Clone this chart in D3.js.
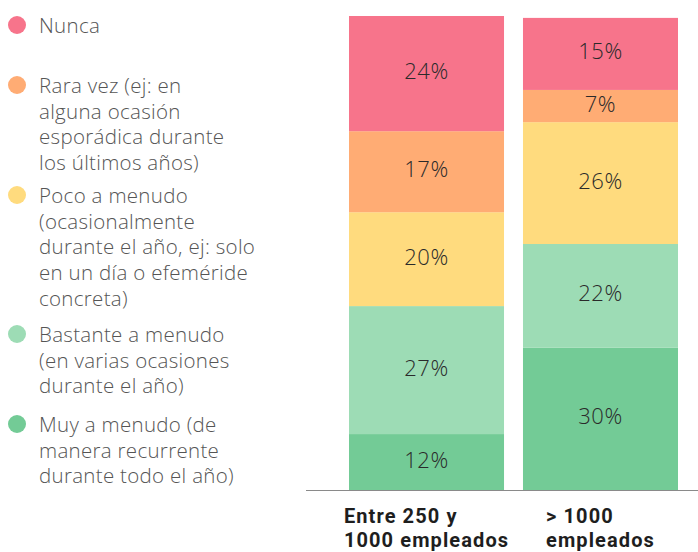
<!DOCTYPE html>
<html>
<head>
<meta charset="utf-8">
<script src="https://cdn.jsdelivr.net/npm/d3@7"></script>
<style>
  body { margin: 0; background: #fff; }
  svg { display: block; font-family: "Open Sans", Roboto, sans-serif; }
</style>
</head>
<body>
<div id="chart"></div>
<script>
const categories = ["Entre 250 y 1000 empleados", "> 1000 empleados"];
const categoryLines = [["Entre 250 y", "1000 empleados"], [">\u00a01000", "empleados"]];
const seriesNames = ["Muy a menudo", "Bastante a menudo", "Poco a menudo", "Rara vez", "Nunca"];
const muyAMenudo = [11.8, 30.0];
const bastanteAMenudo = [27.0, 21.9];
const pocoAMenudo = [19.8, 25.7];
const raraVez = [17.1, 6.8];
const nunca = [24.3, 15.2];
const colors = ["#73cb96", "#9ddcb5", "#ffdb7e", "#ffac74", "#f7748b"];
const legendOrder = ["Nunca", "Rara vez", "Poco a menudo", "Bastante a menudo", "Muy a menudo"];
const legendLines = [
  ["Nunca"],
  ["Rara vez (ej: en", "alguna ocasión", "esporádica durante", "los últimos años)"],
  ["Poco a menudo", "(ocasionalmente", "durante el año, ej: solo", "en un día o efeméride", "concreta)"],
  ["Bastante a menudo", "(en varias ocasiones", "durante el año)"],
  ["Muy a menudo (de", "manera recurrente", "durante todo el año)"]
];

const W = 698, H = 552;
const svg = d3.select("#chart").append("svg").attr("width", W).attr("height", H);

const values = [muyAMenudo, bastanteAMenudo, pocoAMenudo, raraVez, nunca];
const rows = categories.map((c, i) => {
  const r = {cat: c};
  seriesNames.forEach((s, j) => r[s] = values[j][i]);
  return r;
});
const stack = d3.stack().keys(seriesNames)(rows);

const x = d3.scaleBand().domain(categories).range([349, 678]).paddingInner(0.109).paddingOuter(0);
const y = d3.scaleLinear().domain([0, 100]).range([490, 16]);
const color = d3.scaleOrdinal().domain(seriesNames).range(colors);

const layer = svg.selectAll(".layer").data(stack).enter().append("g")
  .attr("fill", d => color(d.key));
layer.selectAll("rect").data(d => d).enter().append("rect")
  .attr("x", d => x(d.data.cat))
  .attr("width", x.bandwidth())
  .attr("y", d => y(d[1]))
  .attr("height", d => y(d[0]) - y(d[1]));

const lbl = svg.append("g");
stack.forEach(s => {
  s.forEach(d => {
    lbl.append("text")
      .attr("x", x(d.data.cat) + x.bandwidth() / 2)
      .attr("y", (y(d[0]) + y(d[1])) / 2 + 5.5)
      .attr("text-anchor", "middle")
      .attr("font-size", 22)
      .attr("font-weight", 300)
      .attr("letter-spacing", 0.5)
      .attr("fill", "#2a2a2a")
      .text(Math.round(d[1] - d[0]) + "%");
  });
});

// baseline
svg.append("line").attr("x1", 306).attr("x2", W).attr("y1", 490.5).attr("y2", 490.5)
  .attr("stroke", "#8a8a8a").attr("stroke-width", 1.2);

// category labels: left aligned block, centered under bar
categories.forEach((c, i) => {
  const g = svg.append("g");
  const t = g.append("text").attr("font-family", "Roboto, sans-serif")
    .attr("font-size", 20).attr("font-weight", 700)
    .attr("letter-spacing", 1.1).attr("fill", "#1e1e1e");
  categoryLines[i].forEach((l, k) => {
    t.append("tspan").attr("x", 0).attr("y", 523 + k * 24).text(l);
  });
  const w = t.node().getBBox().width;
  g.attr("transform", `translate(${x(c) + x.bandwidth() / 2 - w / 2},0)`);
});

// legend
const legendY = [33, 93, 203, 342, 432];
legendOrder.forEach((name, i) => {
  const g = svg.append("g");
  g.append("circle").attr("cx", 17).attr("cy", legendY[i] - 8).attr("r", 9).attr("fill", color(name));
  const t = g.append("text").attr("font-size", 20.5).attr("font-weight", 300)
    .attr("letter-spacing", 0.3).attr("fill", "#555");
  legendLines[i].forEach((l, k) => {
    t.append("tspan").attr("x", 39).attr("y", legendY[i] + k * 25.7).text(l);
  });
});
</script>
</body>
</html>
